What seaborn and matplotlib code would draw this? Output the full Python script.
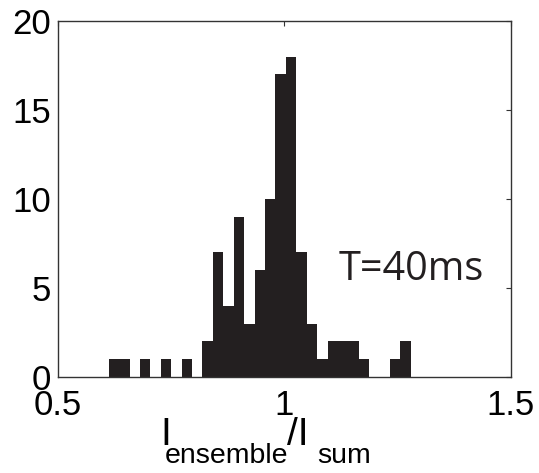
import numpy as np
import pandas as pd
import matplotlib
matplotlib.use("Agg")
import matplotlib.pyplot as plt
import seaborn as sns

# Histogram data (29 bins between min and max of ratio)
bin_lo = 0.612
bin_hi = 1.279
counts = [1, 1, 0, 1, 0, 1, 0, 1, 0, 2, 7, 4, 9, 3, 6, 10, 17, 18, 7, 3,
          1, 2, 2, 2, 1, 0, 0, 1, 2]
x_ticks = [0.5, 1.0, 1.5]
x_ticklabels = ["0.5", "1", "1.5"]
y_ticks = [0, 5, 10, 15, 20]
annotation = "T=40ms"

centers = np.linspace(bin_lo, bin_hi, len(counts) + 1)
centers = (centers[:-1] + centers[1:]) / 2
df = pd.DataFrame({"ratio": centers, "count": counts})

sns.set_style("white")
plt.rcParams["font.family"] = ["Liberation Sans", "DejaVu Sans"]
plt.rcParams["text.color"] = "black"
plt.rcParams["xtick.color"] = "black"
plt.rcParams["ytick.color"] = "black"

W, H = 539, 473
fig = plt.figure(figsize=(W / 100, H / 100), dpi=100)
ax = fig.add_axes([0.1076, 0.2030, 0.8404, 0.7526])

sns.histplot(data=df, x="ratio", weights="count", bins=len(counts),
             binrange=(bin_lo, bin_hi), ax=ax,
             color="#231f20", alpha=1.0, edgecolor="#231f20", linewidth=0.0,
             element="bars", fill=True)

ax.set_xlim(0.5, 1.5)
ax.set_ylim(0, 20)
ax.set_xticks(x_ticks)
ax.set_xticklabels(x_ticklabels)
ax.set_yticks(y_ticks)
ax.tick_params(direction="in", length=3.5, width=0.8, color="#333333",
               labelcolor="black", top=True, right=True, labelsize=25, pad=5)
ax.tick_params(axis="x", pad=9)
for s in ax.spines.values():
    s.set_visible(True)
    s.set_linewidth(1.0)
    s.set_color("#333333")
ax.set_ylabel("")
ax.set_xlabel("")

# x label composed as main text + lowered subscripts: I_ensemble / I_sum
def ftext(x, y, s, size):
    fig.text(x / W, 1 - y / H, s, fontsize=size, va="baseline", ha="left",
             color="black")

ftext(160, 445, "I", 28)
ftext(165, 463, "ensemble", 20.5)
ftext(287, 445, "/I", 28)
ftext(317, 463, "sum", 20.5)

ax.text(1.12, 6.0, annotation, fontsize=28.5,
        family=["Open Sans", "DejaVu Sans"],
        color="#231f20", va="center", ha="left")

fig.savefig("out.png", dpi=100)
